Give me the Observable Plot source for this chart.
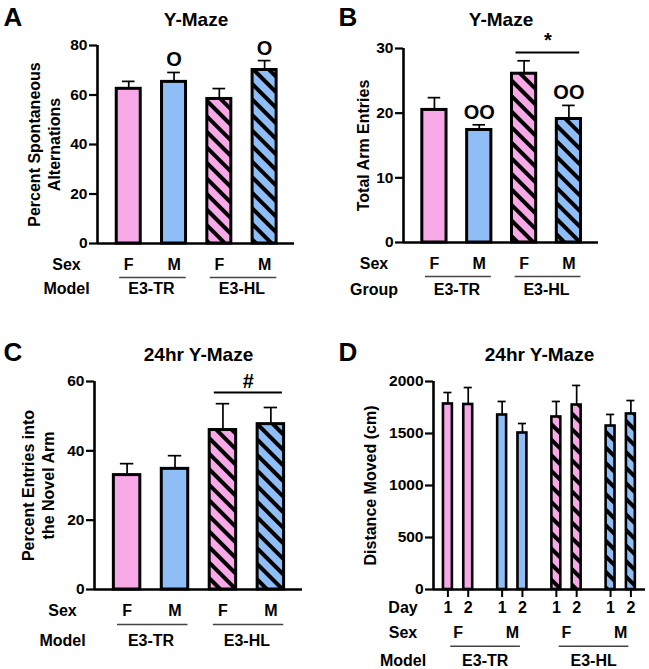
<!DOCTYPE html>
<html><head><meta charset="utf-8">
<script src="https://cdn.jsdelivr.net/npm/d3@7"></script>
<script src="https://cdn.jsdelivr.net/npm/@observablehq/plot@0.6"></script>
<style>
body{margin:0;background:#fff;}
#fig{position:relative;width:649px;height:669px;overflow:hidden;background:#fff;}
#fig > div{position:absolute;}
</style></head><body><div id="fig"></div>
<script>
const PINK = "#F6A8E7";
const BLUE = "#8FBEF7";

// Panels A–C: categories
const sexABC = ["F", "M", "F", "M"];
const modelABC = ["E3-TR", "E3-TR", "E3-HL", "E3-HL"];

// Panel A: Y-Maze, percent spontaneous alternations
const altMean = [62.5, 65.3, 58.4, 70.1];
const altSem = [3.0, 3.8, 4.2, 3.8];
const altMarks = ["", "O", "", "O"];
const altTicks = [0, 20, 40, 60, 80];

// Panel B: Y-Maze, total arm entries
const armMean = [20.5, 17.4, 26.1, 19.1];
const armSem = [1.9, 0.8, 2.0, 2.1];
const armMarks = ["", "OO", "", "OO"];
const armTicks = [0, 10, 20, 30];
const armBracket = [{from: 2, to: 3, y: 29.4, text: "*"}];

// Panel C: 24hr Y-Maze, percent entries into the novel arm
const novelMean = [33.0, 34.8, 46.0, 47.7];
const novelSem = [3.3, 3.8, 7.6, 4.8];
const novelTicks = [0, 20, 40, 60];
const novelBracket = [{from: 2, to: 3, y: 56.8, text: "#"}];

// Panel D: 24hr Y-Maze, distance moved (cm)
const dayD = [1, 2, 1, 2, 1, 2, 1, 2];
const sexD = ["F", "F", "M", "M", "F", "F", "M", "M"];
const modelD = ["E3-TR", "E3-TR", "E3-TR", "E3-TR", "E3-HL", "E3-HL", "E3-HL", "E3-HL"];
const distMean = [1784, 1779, 1678, 1505, 1659, 1774, 1572, 1688];
const distSem = [110, 163, 130, 91, 149, 188, 111, 129];
const distTicks = [0, 500, 1000, 1500, 2000];

const FONT = "'Liberation Sans', Arial, Helvetica, sans-serif";

function runs(items, keyFn) {
  const out = [];
  items.forEach(d => {
    const k = keyFn(d);
    const last = out[out.length - 1];
    if (last && last.key === k) last.items.push(d);
    else out.push({key: k, items: [d]});
  });
  return out.map(r => ({
    first: r.items[0],
    start: r.items[0].pos,
    end: r.items[r.items.length - 1].pos,
    mid: d3.mean(r.items, d => d.pos)
  }));
}

function makePanel(o) {
  const rows = o.means.map((m, i) => ({
    pos: o.pos[i], mean: m, top: m + o.sems[i],
    sex: o.sex[i], model: o.model[i],
    day: o.day ? o.day[i] : null,
    mark: o.marks ? o.marks[i] : ""
  }));
  const sexRuns = runs(rows, d => d.model + "|" + d.sex).map(r => ({...r, text: r.first.sex}));
  const modelRuns = runs(rows, d => d.model).map(r => ({...r, text: r.first.model}));
  const fillOf = d => d.model === "E3-HL" ? `url(#${o.id}-${d.sex})` : (d.sex === "F" ? PINK : BLUE);
  const T = {fill: "black", fontWeight: "bold"};
  const LBL = 16;
  const rowLabel = (label, dy) => Plot.text([label], {
    ...T, text: d => d, frameAnchor: "bottom-left", dx: o.rowDx, dy,
    textAnchor: "middle", lineAnchor: "middle", fontSize: LBL
  });
  const marks = [
    () => {
      const defs = d3.create("svg:defs");
      for (const [k, c] of [["F", PINK], ["M", BLUE]]) {
        const p = defs.append("pattern").attr("id", `${o.id}-${k}`)
          .attr("patternUnits", "userSpaceOnUse")
          .attr("width", 11).attr("height", 11)
          .attr("patternTransform", "rotate(45)");
        p.append("rect").attr("width", 11).attr("height", 11).attr("fill", c);
        p.append("rect").attr("width", 11).attr("height", 4).attr("fill", "black");
      }
      return defs.node();
    },
    Plot.rect(rows, {
      x1: d => d.pos - o.halfW, x2: d => d.pos + o.halfW, y1: () => 0, y2: "mean",
      fill: fillOf, stroke: "black", strokeWidth: o.barStroke
    }),
    Plot.ruleX(rows, {x: "pos", y1: "mean", y2: "top", stroke: "black", strokeWidth: 1.7}),
    Plot.ruleY(rows, {y: "top", x1: d => d.pos - o.capHalf, x2: d => d.pos + o.capHalf, stroke: "black", strokeWidth: 1.7}),
    Plot.ruleY([0], {stroke: "black", strokeWidth: 2.6}),
    Plot.ruleX([o.xDomain[0]], {y1: 0, y2: o.ticks[o.ticks.length - 1], stroke: "black", strokeWidth: 2.6}),
    Plot.axisY({ticks: o.ticks, tickSize: 8, tickPadding: 2, strokeWidth: 2.2, fontSize: 15.5, fontWeight: "bold", label: null, tickFormat: d3.format("d")}),
    Plot.text(rows.filter(d => d.mark), {...T, x: "pos", y: "top", text: "mark", dy: -6, lineAnchor: "bottom", fontSize: 20}),
    Plot.ruleY(o.brackets || [], {y: "y", x1: d => o.pos[d.from] - 0.18, x2: d => o.pos[d.to] + 0.24, stroke: "black", strokeWidth: 2}),
    Plot.text(o.brackets || [], {...T, x: d => (o.pos[d.from] + o.pos[d.to]) / 2 + 0.03, y: "y", text: "text", dy: -5, lineAnchor: "bottom", fontSize: 20}),
    Plot.text(sexRuns, {...T, x: "mid", y: () => 0, text: "text", dy: o.sexDy, lineAnchor: "middle", fontSize: LBL}),
    Plot.ruleY(modelRuns, {y: () => 0, x1: d => d.start + o.lineOff[0], x2: d => d.end + o.lineOff[1], dy: o.lineDy, stroke: "#444", strokeWidth: 1.4}),
    Plot.text(modelRuns, {...T, x: "mid", y: () => 0, text: "text", dy: o.modelDy, lineAnchor: "middle", fontSize: LBL}),
    rowLabel("Sex", o.sexDy),
    rowLabel(o.groupName, o.modelDy),
    Plot.text([o.title], {...T, text: d => d, frameAnchor: "top", dy: 25 - o.marginTop, lineAnchor: "bottom", textAnchor: "middle", fontSize: 19}),
    Plot.text([o.letter], {...T, text: d => d, frameAnchor: "top-left", dx: o.letterX - o.marginLeft, dy: 25 - o.marginTop, lineAnchor: "bottom", textAnchor: "start", fontSize: 26}),
    Plot.text([o.yLabel], {...T, text: d => d, frameAnchor: "left", dx: o.yLabelDx, rotate: -90, textAnchor: "middle", lineAnchor: "middle", lineHeight: 1.25, fontSize: 16})
  ];
  if (o.day) {
    const dayAt = new Map(rows.map(d => [d.pos, d.day]));
    marks.push(Plot.axisX({ticks: rows.map(d => d.pos), tickSize: 8, tickPadding: 4, strokeWidth: 2, fontSize: LBL, fontWeight: "bold", label: null, tickFormat: p => String(dayAt.get(p))}));
    marks.push(rowLabel("Day", o.dayDy));
  }
  const chart = Plot.plot({
    width: o.width, height: o.height,
    marginLeft: o.marginLeft, marginRight: o.marginRight,
    marginTop: o.marginTop, marginBottom: o.marginBottom,
    x: o.day ? {domain: o.xDomain} : {domain: o.xDomain, axis: null},
    y: {domain: [0, o.ticks[o.ticks.length - 1]]},
    color: {type: "identity"},
    style: {fontFamily: FONT, fontWeight: "bold", fontSize: "15px", color: "#000", background: "#fff", overflow: "visible"},
    marks
  });
  const holder = document.createElement("div");
  holder.style.left = o.left + "px";
  holder.style.top = o.top + "px";
  holder.appendChild(chart);
  document.getElementById("fig").appendChild(holder);
}

const posABC = sexABC.map((_, i) => i);
const posD = dayD.map((d, i) => Math.floor(i / 2) * 2.67 + (d - 1));

makePanel({
  id: "pa", letter: "A", letterX: 3, title: "Y-Maze", yLabel: "Percent Spontaneous\nAlternations", yLabelDx: -54,
  left: 0, top: 0, width: 325, height: 335, marginLeft: 97, marginRight: 31, marginTop: 45, marginBottom: 92,
  means: altMean, sems: altSem, sex: sexABC, model: modelABC, marks: altMarks, ticks: altTicks,
  pos: posABC, xDomain: [-0.69, 3.66], halfW: 0.265, capHalf: 0.14, barStroke: 3,
  sexDy: 21, lineDy: 34, modelDy: 45.5, rowDx: -31, lineOff: [-0.2, 0.27], groupName: "Model"
});
makePanel({
  id: "pb", letter: "B", letterX: 13, title: "Y-Maze", yLabel: "Total Arm Entries", yLabelDx: -41,
  left: 325, top: 0, width: 324, height: 335, marginLeft: 78, marginRight: 51, marginTop: 48, marginBottom: 93,
  means: armMean, sems: armSem, sex: sexABC, model: modelABC, marks: armMarks, ticks: armTicks, brackets: armBracket,
  pos: posABC, xDomain: [-0.69, 3.66], halfW: 0.27, capHalf: 0.14, barStroke: 3,
  sexDy: 21, lineDy: 34, modelDy: 47, rowDx: -29.5, lineOff: [-0.2, 0.27], groupName: "Group"
});
makePanel({
  id: "pc", letter: "C", letterX: 3, title: "24hr Y-Maze", yLabel: "Percent Entries into\nthe Novel Arm", yLabelDx: -57,
  left: 0, top: 335, width: 325, height: 334, marginLeft: 94, marginRight: 23, marginTop: 46, marginBottom: 80,
  means: novelMean, sems: novelSem, sex: sexABC, model: modelABC, ticks: novelTicks, brackets: novelBracket,
  pos: posABC, xDomain: [-0.68, 3.66], halfW: 0.276, capHalf: 0.14, barStroke: 3,
  sexDy: 21.5, lineDy: 35, modelDy: 51, rowDx: -32, lineOff: [-0.2, 0.27], groupName: "Model"
});
makePanel({
  id: "pd", letter: "D", letterX: 13, title: "24hr Y-Maze", yLabel: "Distance Moved (cm)", yLabelDx: -64,
  left: 325, top: 335, width: 324, height: 334, marginLeft: 108, marginRight: 4, marginTop: 46, marginBottom: 80,
  means: distMean, sems: distSem, sex: sexD, model: modelD, day: dayD, ticks: distTicks,
  pos: posD, xDomain: [-0.71, 9.73], halfW: 0.22, capHalf: 0.2, barStroke: 2.6,
  dayDy: 18, sexDy: 43.5, lineDy: 56.7, modelDy: 71.5, rowDx: -30.5, lineOff: [0.14, -0.1], groupName: "Model"
});
</script></body></html>
